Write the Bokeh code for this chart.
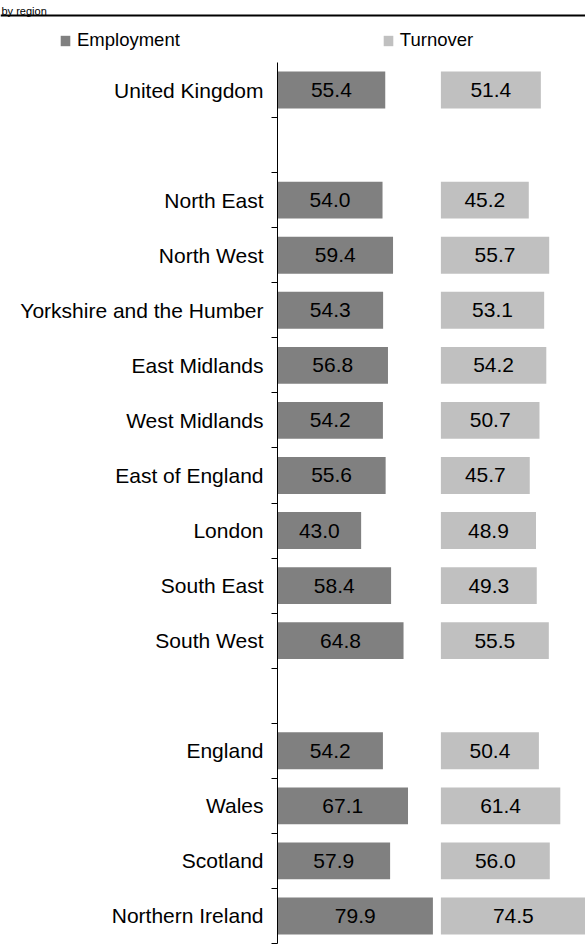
from bokeh.plotting import figure
from bokeh.models import Range1d, FixedTicker, Legend, LegendItem, Span, Label, ColumnDataSource
from bokeh.layouts import column
from bokeh.embed import file_html
from bokeh.resources import INLINE
from bokeh.core.properties import value

# ---- data (top to bottom; "" rows are blank spacer rows) ----
regions = ["United Kingdom", "", "North East", "North West", "Yorkshire and the Humber",
           "East Midlands", "West Midlands", "East of England", "London", "South East",
           "South West", "", "England", "Wales", "Scotland", "Northern Ireland"]
employment = [55.4, None, 54.0, 59.4, 54.3, 56.8, 54.2, 55.6, 43.0, 58.4, 64.8,
              None, 54.2, 67.1, 57.9, 79.9]
turnover = [51.4, None, 45.2, 55.7, 53.1, 54.2, 50.7, 45.7, 48.9, 49.3, 55.5,
            None, 50.4, 61.4, 56.0, 74.5]
series_names = ["Employment", "Turnover"]
title_text = "by region"

# ---- layout constants ----
FONT = "Liberation Sans"
EMP_COLOR = "#808080"
TURN_COLOR = "#C0C0C0"
TURN_OFFSET = 84.0        # x where the turnover column starts (same scale)
PX_PER_UNIT = 1.945
W = 585
TOTAL_H = 945
HEADER_H = 62
MAIN_H = TOTAL_H - HEADER_H
FRAME_LEFT = 277
N = len(regions)
FRAME_H = 881

rows = [i for i, r in enumerate(regions) if r]
src = ColumnDataSource(dict(
    y=rows,
    emp=[employment[i] for i in rows],
    emp_mid=[employment[i] / 2 for i in rows],
    emp_lbl=["%.1f" % employment[i] for i in rows],
    t_left=[TURN_OFFSET for i in rows],
    t_right=[TURN_OFFSET + turnover[i] for i in rows],
    t_mid=[TURN_OFFSET + turnover[i] / 2 for i in rows],
    t_lbl=["%.1f" % turnover[i] for i in rows],
))

# ---- header (title, rule, legend) ----
h = figure(width=W, height=HEADER_H, x_range=Range1d(0, W), y_range=Range1d(0, HEADER_H),
           output_backend="svg", toolbar_location=None, min_border=0)
h.frame_align = False
h.axis.visible = False
h.grid.visible = False
h.outline_line_color = None
h.add_layout(Span(location=HEADER_H - 15, dimension="width", line_color="black", line_width=2))
h.add_layout(Label(x=1, y=HEADER_H - 10, text=title_text,
                   text_font=FONT, text_font_size="11px", text_color="black",
                   text_baseline="alphabetic"))
nan = float("nan")
lg_emp = h.hbar(y=[nan], left=[0], right=[0], height=1, fill_color=EMP_COLOR, line_color=None)
lg_turn = h.hbar(y=[nan], left=[0], right=[0], height=1, fill_color=TURN_COLOR, line_color=None)
legend = Legend(items=[LegendItem(label=series_names[0], renderers=[lg_emp]),
                       LegendItem(label=series_names[1], renderers=[lg_turn])],
                orientation="horizontal", location=(59, 11),
                glyph_width=12, glyph_height=13, label_standoff=6, spacing=202,
                label_text_font=FONT, label_text_font_size="18.5px", label_text_color="black",
                label_height=20, padding=0, margin=0,
                border_line_color=None, background_fill_alpha=0)
h.add_layout(legend, "center")

# ---- main chart ----
p = figure(width=W, height=MAIN_H,
           x_range=Range1d(0, (W - FRAME_LEFT) / PX_PER_UNIT),
           y_range=Range1d(N - 0.5, -0.5),
           output_backend="svg", toolbar_location=None,
           min_border_left=FRAME_LEFT, min_border_right=0,
           min_border_top=0, min_border_bottom=MAIN_H - FRAME_H)
p.frame_align = False
p.xaxis.visible = False
p.grid.visible = False
p.outline_line_color = None

p.hbar(y="y", left=0, right="emp", height=0.67, source=src,
       fill_color=EMP_COLOR, line_color=None)
p.hbar(y="y", left="t_left", right="t_right", height=0.67, source=src,
       fill_color=TURN_COLOR, line_color=None)
p.text(x="emp_mid", y="y", text="emp_lbl", source=src, text_align="center",
       text_baseline="middle", text_font=value(FONT), text_font_size="21px", text_color="black")
p.text(x="t_mid", y="y", text="t_lbl", source=src, text_align="center",
       text_baseline="middle", text_font=value(FONT), text_font_size="21px", text_color="black")

ax = p.yaxis[0]
ax.ticker = FixedTicker(ticks=rows, minor_ticks=[i + 0.5 for i in range(N)])
ax.major_label_overrides = {i: regions[i] for i in rows}
ax.major_tick_out = 0
ax.major_tick_in = 0
ax.minor_tick_out = 6
ax.minor_tick_in = 0
ax.minor_tick_line_color = "black"
ax.axis_line_color = "black"
ax.major_label_standoff = 8
ax.major_label_text_font = FONT
ax.major_label_text_font_size = "21px"
ax.major_label_text_color = "black"

layout = column(h, p, spacing=0)
open("out.html", "w").write(file_html(layout, INLINE))
